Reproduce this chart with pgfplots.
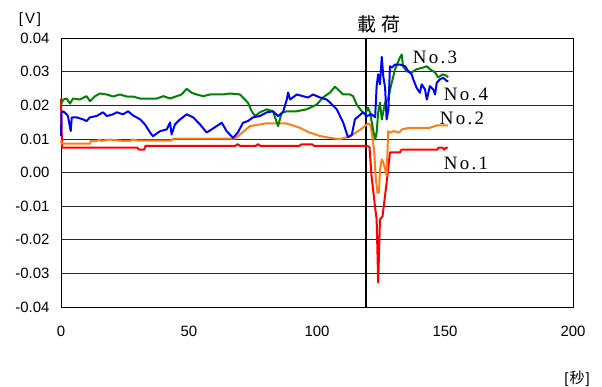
\documentclass[border=0pt]{standalone}
\usepackage{pgfplots}
\pgfplotsset{compat=1.18}
\usepackage{fontspec}
\setmainfont{Liberation Sans}
\newfontfamily\cjk{Noto Sans CJK JP}
\newfontfamily\serifsp[LetterSpace=12]{Liberation Serif}
\definecolor{cRed}{RGB}{255,0,0}
\definecolor{cOrange}{RGB}{255,125,20}
\definecolor{cGreen}{RGB}{0,130,0}
\definecolor{cBlue}{RGB}{0,0,255}
\begin{document}
\begin{tikzpicture}
\useasboundingbox (-61bp,-80bp) rectangle (541bp,307bp);
\begin{axis}[
  at={(0,0)}, anchor=south west,
  scale only axis, width=512bp, height=269bp,
  xmin=0, xmax=200, ymin=-0.04, ymax=0.04,
  scaled y ticks=false, scaled x ticks=false,
  xtick={0,50,100,150,200},
  ytick={-0.04,-0.03,-0.02,-0.01,0,0.01,0.02,0.03,0.04},
  yticklabels={-0.04,-0.03,-0.02,-0.01,0.00,0.01,0.02,0.03,0.04},
  xticklabels={0,50,100,150,200},
  major tick length=0pt,
  ymajorgrids, grid style={black!85, line width=0.6pt},
  axis line style={black, line width=0.8pt},
  tick label style={font=\fontsize{15}{15}\selectfont},
  yticklabel style={xshift=-8bp},
  xticklabel style={yshift=-16bp},
  clip=false,
  line join=round,
]
\addplot[black, line width=1.8pt] coordinates {(119.1,-0.04) (119.1,0.04)};
% No.1 red
\addplot[cRed, line width=2pt] coordinates {
(0,0.022)(0.4,0.0074)(29.7,0.0074)(30.5,0.0068)(32.5,0.0068)(33,0.0079)(68,0.0079)(69,0.0084)(70,0.0079)(76,0.0079)(77,0.0084)(78,0.0079)(93,0.0079)(94,0.0084)(98,0.0084)(99,0.0079)(119.5,0.0079)(120.5,0.0076)(121.3,-0.001)(122.7,-0.0104)(123.3,-0.014)(123.9,-0.0327)(124.6,-0.014)(125.6,-0.013)(127.2,-0.003)(128.5,0.006)(132.4,0.006)(133,0.0068)(147,0.0068)(147.5,0.0074)(149,0.0074)(149.7,0.0068)(150.3,0.0074)(151,0.0072)
};
% No.2 orange
\addplot[cOrange, line width=2pt] coordinates {
(0,0.0095)(0.3,0.0086)(11.3,0.0086)(11.7,0.0094)(14,0.0094)(15,0.0098)(16,0.0094)(19,0.0098)(24,0.0094)(27,0.0094)(28,0.0098)(30,0.0095)(43,0.0095)(44,0.0101)(68,0.0101)(71,0.012)(73.8,0.0138)(80,0.0146)(88,0.0146)(93,0.0134)(97,0.0119)(101,0.0109)(105,0.0103)(109,0.0099)(113,0.0108)(117,0.0128)(119.5,0.0143)(120.3,0.0146)(121,0.0138)(122.3,0.0068)(122.9,-0.0011)(123.6,-0.006)(124.2,-0.006)(124.6,0.0009)(125.3,0.0039)(125.9,0.003)(126.6,0.0009)(127.2,-0.001)(127.8,0.0123)(128.5,0.0119)(130,0.0123)(132,0.0119)(133.2,0.0128)(136,0.0133)(144,0.0133)(146.9,0.014)(151.2,0.014)
};
% No.3 green
\addplot[cGreen, line width=2pt] coordinates {
(0,0.0202)(0.9,0.0217)(2.2,0.0220)(3.5,0.0205)(4.7,0.0220)(7.4,0.0217)(10.0,0.0227)(11.3,0.0212)(13.3,0.0227)(15.2,0.0235)(17.9,0.0232)(20.3,0.0226)(23.0,0.0232)(25.7,0.0226)(28.1,0.0226)(30.9,0.0220)(33.5,0.0220)(37.4,0.0220)(40.0,0.0227)(42.6,0.0220)(45.2,0.0227)(47.1,0.0232)(49.1,0.0249)(51.1,0.0237)(53.0,0.0232)(55.5,0.0227)(58.2,0.0232)(63.3,0.0232)(66.0,0.0235)(69.9,0.0232)(73.0,0.0208)(74.5,0.0182)(75.8,0.0168)(77.7,0.0179)(80.4,0.0188)(82.8,0.0182)(84.8,0.0138)(86.2,0.0178)(88.2,0.0182)(92.1,0.0182)(96.0,0.0188)(99.9,0.0202)(102.3,0.0223)(105.1,0.0238)(107.0,0.0255)(108.2,0.0247)(110.2,0.0232)(112.9,0.0232)(114.1,0.0227)(115.5,0.0202)(117.5,0.0182)(118.8,0.0173)(119.9,0.0193)(120.7,0.0179)(121.9,0.0128)(122.7,0.0098)(123.3,0.0119)(123.9,0.0179)(124.6,0.0208)(125.3,0.0158)(126.6,0.0208)(127.7,0.0217)(129.2,0.0268)(130.5,0.0307)(131.6,0.0327)(132.4,0.0342)(133.1,0.0351)(133.6,0.0316)(135.0,0.0301)(137.0,0.0298)(138.9,0.0307)(141.4,0.0312)(142.9,0.0316)(144.1,0.0307)(146.1,0.0298)(147.3,0.0283)(149.2,0.0292)(150.7,0.0287)(151.2,0.0283)
};
% No.4 blue
\addplot[cBlue, line width=2pt] coordinates {
(0,0.0108)(0.2,0.0179)(0.9,0.0182)(2.2,0.0173)(2.7,0.0168)(3.8,0.0123)(4.2,0.0164)(6.1,0.0164)(8.6,0.0158)(10.0,0.0153)(11.3,0.0164)(13.9,0.0168)(16.4,0.0179)(17.9,0.0168)(20.3,0.0173)(21.8,0.0179)(24.2,0.0173)(26.2,0.0182)(28.1,0.0170)(30.9,0.0158)(32.8,0.0143)(34.8,0.0119)(35.9,0.0108)(38.7,0.0123)(41.3,0.0128)(42.6,0.0149)(43.2,0.0113)(44.5,0.0143)(46.5,0.0158)(49.1,0.0173)(51.6,0.0164)(54.3,0.0143)(56.9,0.0119)(58.2,0.0125)(60.8,0.0138)(62.8,0.0148)(64.7,0.0123)(67.2,0.0103)(69.1,0.0119)(71.1,0.0148)(73.0,0.0153)(75.0,0.0164)(77.7,0.0168)(80.4,0.0179)(82.8,0.0182)(84.8,0.0168)(86.7,0.0179)(88.2,0.0217)(88.7,0.0238)(89.5,0.0217)(92.1,0.0232)(94.5,0.0227)(96.5,0.0223)(98.4,0.0232)(101.2,0.0223)(103.8,0.0217)(105.1,0.0208)(107.7,0.0188)(110.2,0.0149)(112.1,0.0105)(113.6,0.0112)(114.8,0.0158)(118.0,0.0179)(119.4,0.0168)(121.4,0.0173)(122.7,0.0164)(123.3,0.0257)(123.9,0.0292)(124.6,0.0262)(125.3,0.0344)(125.9,0.0286)(126.6,0.0252)(127.2,0.0158)(127.9,0.0188)(128.5,0.0316)(129.2,0.0312)(130.5,0.0321)(132.4,0.0321)(134.4,0.0316)(135.7,0.0301)(137.0,0.0292)(137.6,0.0277)(138.9,0.0252)(140.2,0.0237)(140.9,0.0262)(142.2,0.0247)(142.9,0.0217)(144.1,0.0257)(145.4,0.0247)(146.1,0.0232)(146.8,0.0267)(148.0,0.0277)(149.3,0.0282)(150.7,0.0272)(151.3,0.0272)
};
\node[font=\serifsp\fontsize{19}{19}\selectfont] at (axis cs:146.1,0.0342) {No.3};
\node[font=\serifsp\fontsize{19}{19}\selectfont] at (axis cs:158.2,0.0232) {No.4};
\node[font=\serifsp\fontsize{19}{19}\selectfont] at (axis cs:156.6,0.0161) {No.2};
\node[font=\serifsp\fontsize{19}{19}\selectfont] at (axis cs:158.2,0.0027) {No.1};
\node[font=\cjk\fontsize{19}{19}\selectfont] at (axis description cs:0.621,1.052) {載\hspace{6bp}荷};
\node[font=\fontsize{15}{15}\selectfont] at (axis description cs:-0.0605,1.067) {[\hspace{2bp}V\hspace{2bp}]};
\node[font=\fontsize{15}{15}\selectfont] at (axis description cs:1.008,-0.268) {[\hspace{1bp}{\cjk 秒}\hspace{1bp}]};
\end{axis}
\end{tikzpicture}
\end{document}
